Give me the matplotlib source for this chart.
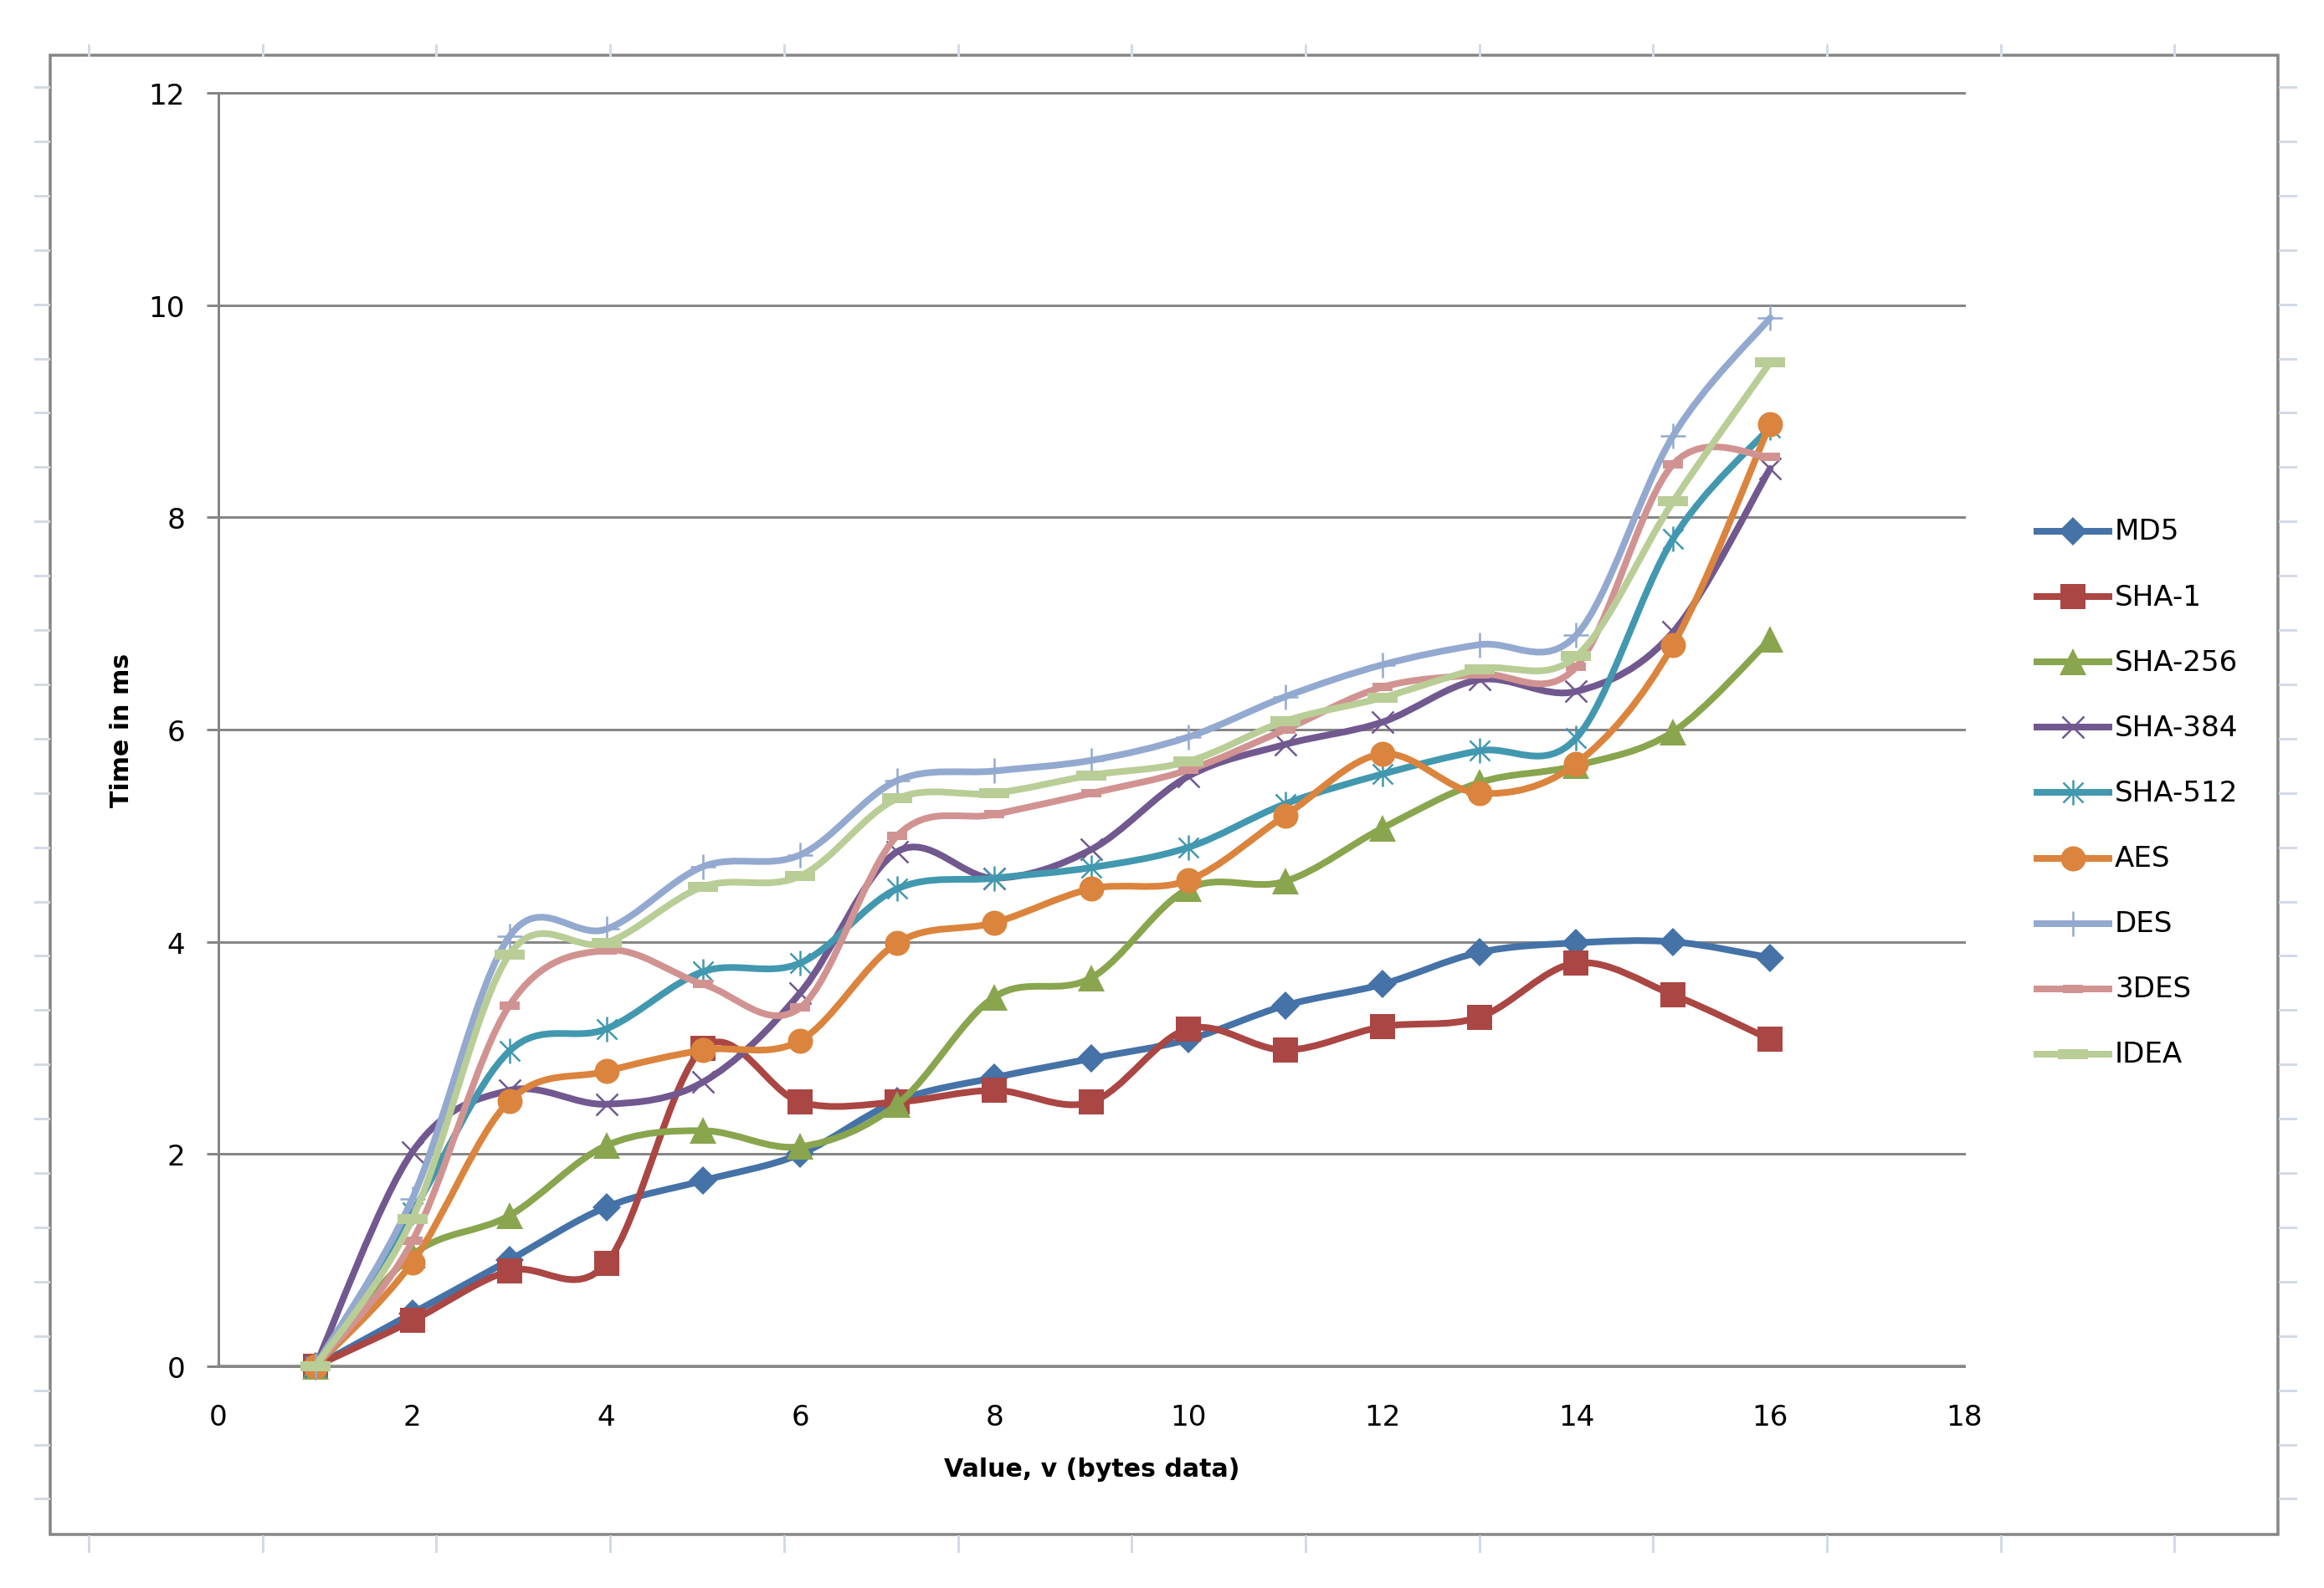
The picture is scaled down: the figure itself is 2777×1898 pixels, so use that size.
import numpy as np
import matplotlib
matplotlib.use('Agg')
import matplotlib.pyplot as plt
from matplotlib.path import Path
from matplotlib.patches import PathPatch
from matplotlib.lines import Line2D

# ---------------- data ----------------
x_values = list(range(1, 17))
series_names = ["MD5", "SHA-1", "SHA-256", "SHA-384", "SHA-512", "AES", "DES", "3DES", "IDEA"]
md5    = [0, 0.50, 1.00, 1.50, 1.75, 2.00, 2.50, 2.72, 2.90, 3.08, 3.40, 3.60, 3.90, 3.99, 4.00, 3.85]
sha1   = [0, 0.43, 0.90, 0.97, 3.00, 2.49, 2.49, 2.60, 2.49, 3.18, 2.98, 3.20, 3.29, 3.80, 3.50, 3.08]
sha256 = [0, 1.05, 1.42, 2.08, 2.22, 2.07, 2.47, 3.48, 3.66, 4.50, 4.57, 5.07, 5.50, 5.66, 5.98, 6.85]
sha384 = [0, 2.02, 2.60, 2.47, 2.68, 3.52, 4.85, 4.60, 4.87, 5.56, 5.86, 6.07, 6.47, 6.36, 6.92, 8.46]
sha512 = [0, 1.45, 2.97, 3.18, 3.72, 3.80, 4.50, 4.60, 4.70, 4.89, 5.30, 5.58, 5.80, 5.92, 7.80, 8.85]
aes    = [0, 0.98, 2.50, 2.78, 2.98, 3.07, 3.99, 4.18, 4.50, 4.58, 5.19, 5.77, 5.40, 5.68, 6.80, 8.88]
des    = [0, 1.58, 4.05, 4.12, 4.71, 4.82, 5.52, 5.61, 5.71, 5.93, 6.31, 6.61, 6.80, 6.89, 8.77, 9.88]
tdes   = [0, 1.18, 3.40, 3.92, 3.60, 3.38, 5.00, 5.20, 5.40, 5.62, 6.00, 6.40, 6.52, 6.59, 8.50, 8.57]
idea   = [0, 1.39, 3.88, 3.99, 4.52, 4.62, 5.35, 5.40, 5.57, 5.70, 6.08, 6.30, 6.57, 6.69, 8.15, 9.46]
series_values = [md5, sha1, sha256, sha384, sha512, aes, des, tdes, idea]

x_ticks = [0, 2, 4, 6, 8, 10, 12, 14, 16, 18]
y_ticks = [0, 2, 4, 6, 8, 10, 12]
x_label = "Value, v (bytes data)"
y_label = "Time in ms"

# ---------------- styles ----------------
W, H, DPI = 2777, 1899, 200
def px(v):  # pixels -> points
    return v * 72.0 / DPI

colors = ["#4572A7", "#AA4643", "#89A54E", "#71588F", "#4198AF",
          "#DB843D", "#93A9CF", "#D19392", "#B9CD96"]

# asterisk marker (x + vertical bar)
ast = Path([(-1, -1), (1, 1), (-1, 1), (1, -1), (0, -1.25), (0, 1.25)],
           [Path.MOVETO, Path.LINETO, Path.MOVETO, Path.LINETO, Path.MOVETO, Path.LINETO])
dash_s = Path([(-1, -0.42), (1, -0.42), (1, 0.42), (-1, 0.42), (-1, -0.42)],
              [Path.MOVETO, Path.LINETO, Path.LINETO, Path.LINETO, Path.CLOSEPOLY])
dash_l = Path([(-1, -0.33), (1, -0.33), (1, 0.33), (-1, 0.33), (-1, -0.33)],
              [Path.MOVETO, Path.LINETO, Path.LINETO, Path.LINETO, Path.CLOSEPOLY])

marker_styles = [
    dict(marker='D', ms=px(24), mew=0),
    dict(marker='s', ms=px(30), mew=0),
    dict(marker='^', ms=px(32), mew=0),
    dict(marker='x', ms=px(26), mew=px(2.5)),
    dict(marker=ast, ms=px(30), mew=px(2.5)),
    dict(marker='o', ms=px(30), mew=0),
    dict(marker='+', ms=px(30), mew=px(2.5)),
    dict(marker=dash_s, ms=px(24), mew=0),
    dict(marker=dash_l, ms=px(36), mew=0),
]
LW = px(8)
GRID = "#868686"
RULER = "#D3DAE6"

plt.rcParams['font.family'] = ['DejaVu Sans']

fig = plt.figure(figsize=(W / DPI, H / DPI), dpi=DPI)
fig.patch.set_facecolor('white')

L, R, T, B = 261, 2347, 112, 1634
ax = fig.add_axes([L / W, 1 - B / H, (R - L) / W, (B - T) / H])
ax.set_xlim(0, 18)
ax.set_ylim(0, 12)
ax.set_xticks(x_ticks)
ax.set_yticks(y_ticks)
ax.set_xticklabels([str(v) for v in x_ticks])
ax.set_yticklabels([str(v) for v in y_ticks])
for s in ['top', 'right', 'bottom']:
    ax.spines[s].set_visible(False)
ax.spines['left'].set_color(GRID)
ax.spines['left'].set_linewidth(px(3))
ax.yaxis.grid(True, color=GRID, linewidth=px(3))
for gl in ax.yaxis.get_gridlines():
    gl.set_clip_on(False)
ax.set_axisbelow(True)
ax.tick_params(axis='y', length=px(14), width=px(3), color=GRID, pad=px(26),
               labelsize=12.3, labelcolor='black')
ax.tick_params(axis='x', length=0, pad=px(44), labelsize=12.3, labelcolor='black')
ax.set_facecolor('white')
# x axis line at y=0
ax.axhline(0, color=GRID, linewidth=px(3.5), zorder=1, clip_on=False)


def smooth_path(xs, ys):
    xs = np.asarray(xs, float)
    ys = np.asarray(ys, float)
    n = len(xs)
    verts = [(xs[0], ys[0])]
    codes = [Path.MOVETO]
    for i in range(n - 1):
        i0 = max(i - 1, 0)
        i3 = min(i + 2, n - 1)
        c1 = (xs[i] + (xs[i + 1] - xs[i0]) / 6.0, ys[i] + (ys[i + 1] - ys[i0]) / 6.0)
        c2 = (xs[i + 1] - (xs[i3] - xs[i]) / 6.0, ys[i + 1] - (ys[i3] - ys[i]) / 6.0)
        verts += [c1, c2, (xs[i + 1], ys[i + 1])]
        codes += [Path.CURVE4] * 3
    return Path(verts, codes)


for k, (name, vals) in enumerate(zip(series_names, series_values)):
    z = 3 + k
    patch = PathPatch(smooth_path(x_values, vals), facecolor='none', edgecolor=colors[k],
                      linewidth=LW, capstyle='round', joinstyle='round', zorder=z, clip_on=False)
    ax.add_patch(patch)
    ms = marker_styles[k]
    ax.plot(x_values, vals, linestyle='none', marker=ms['marker'], markersize=ms['ms'],
            markerfacecolor=colors[k], markeredgecolor=colors[k], markeredgewidth=ms['mew'],
            zorder=z + 0.5, clip_on=False)

# axis titles
fig.text(1305 / W, 1 - 1757 / H, x_label, ha='center', va='center',
         fontsize=10.8, fontweight='bold')
fig.text(145 / W, 1 - 873 / H, y_label, ha='center', va='center', rotation=90,
         fontsize=10.8, fontweight='bold')

# legend (manual, figure coords)
leg_y0, leg_dy = 636, 78.1
for k, name in enumerate(series_names):
    yy = 1 - (leg_y0 + k * leg_dy) / H
    fig.add_artist(Line2D([2430 / W, 2524 / W], [yy, yy], color=colors[k], linewidth=LW,
                          solid_capstyle='butt', transform=fig.transFigure))
    ms = marker_styles[k]
    fig.add_artist(Line2D([2477 / W], [yy], linestyle='none', marker=ms['marker'],
                          markersize=ms['ms'], markerfacecolor=colors[k],
                          markeredgecolor=colors[k], markeredgewidth=ms['mew'],
                          transform=fig.transFigure))
    fig.text(2527 / W, yy, name, ha='left', va='center', fontsize=12.3)

# chart border
bl, bt, br, bb = 60, 67, 2722, 1835
fig.add_artist(plt.Rectangle((bl / W, 1 - bb / H), (br - bl) / W, (bb - bt) / H,
                             fill=False, edgecolor=GRID, linewidth=px(3.5),
                             transform=fig.transFigure))

# page ruler marks around chart border
for kx in range(13):
    xx = (106 + 207.7 * kx) / W
    fig.add_artist(Line2D([xx, xx], [1 - 55 / H, 1 - 67 / H], color=RULER, linewidth=px(3),
                          transform=fig.transFigure))
    fig.add_artist(Line2D([xx, xx], [1 - 1837 / H, 1 - 1855 / H], color=RULER, linewidth=px(3),
                          transform=fig.transFigure))
for ky in range(27):
    yy = 1 - (105 + 64.9 * ky) / H
    fig.add_artist(Line2D([42 / W, 58 / W], [yy, yy], color=RULER, linewidth=px(3),
                          transform=fig.transFigure))
    fig.add_artist(Line2D([2724 / W, 2743 / W], [yy, yy], color=RULER, linewidth=px(3),
                          transform=fig.transFigure))

fig.savefig('out.png', dpi=DPI, facecolor='white')
